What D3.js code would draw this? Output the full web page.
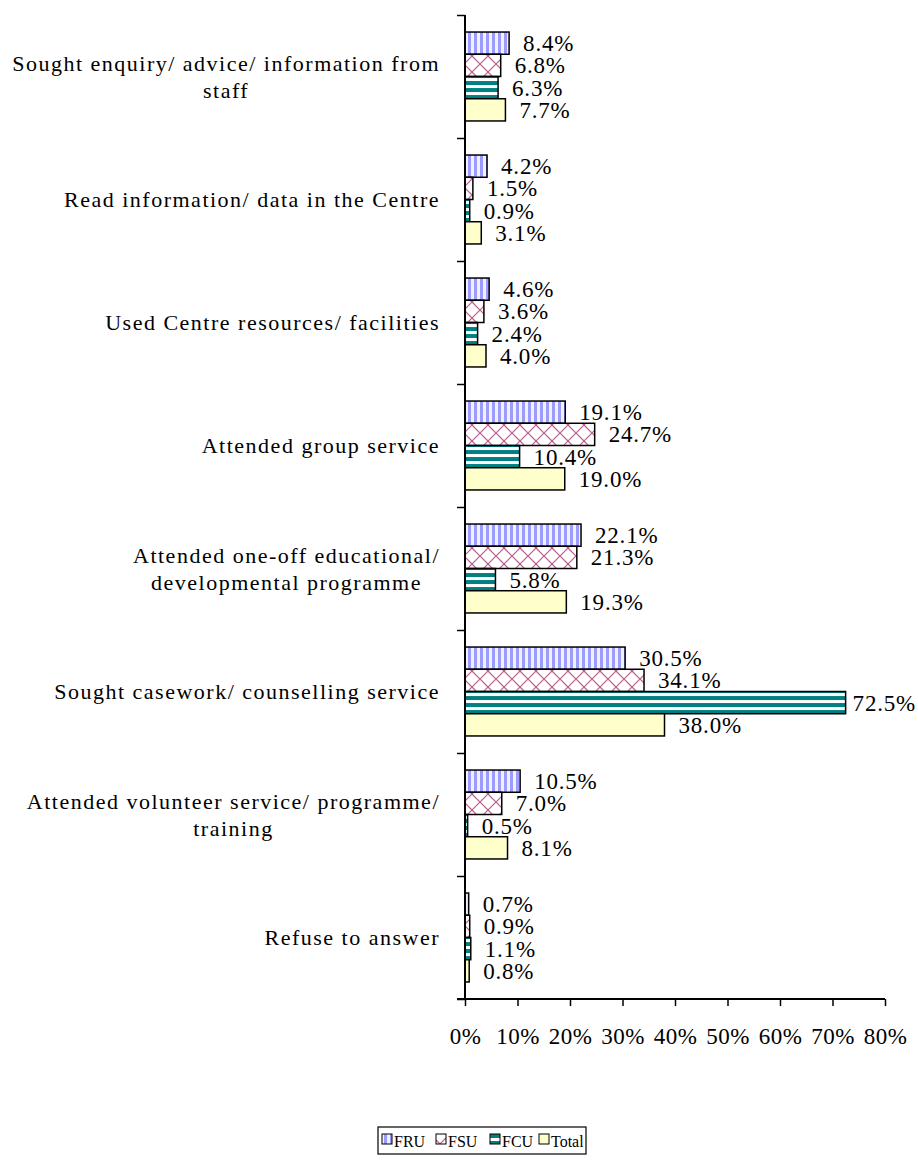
<!DOCTYPE html>
<html>
<head>
<meta charset="utf-8">
<script src="https://cdn.jsdelivr.net/npm/d3@7"></script>
<style>
html,body{margin:0;padding:0;background:#fff;}
svg{display:block;}
text{font-family:"Liberation Serif","Times New Roman",serif;fill:#000;}
</style>
</head>
<body>
<svg id="chart" width="918" height="1160"></svg>
<script>
const categories = [
  ["Sought enquiry/ advice/ information from", "staff"],
  ["Read information/ data in the Centre"],
  ["Used Centre resources/ facilities"],
  ["Attended group service"],
  ["Attended one-off educational/", "developmental programme"],
  ["Sought casework/ counselling service"],
  ["Attended volunteer service/ programme/", "training"],
  ["Refuse to answer"]
];
const seriesNames = ["FRU", "FSU", "FCU", "Total"];
const FRU   = [8.4, 4.2, 4.6, 19.1, 22.1, 30.5, 10.5, 0.7];
const FSU   = [6.8, 1.5, 3.6, 24.7, 21.3, 34.1, 7.0, 0.9];
const FCU   = [6.3, 0.9, 2.4, 10.4, 5.8, 72.5, 0.5, 1.1];
const Total = [7.7, 3.1, 4.0, 19.0, 19.3, 38.0, 8.1, 0.8];
const xTicks = [0, 10, 20, 30, 40, 50, 60, 70, 80];

const seriesValues = [FRU, FSU, FCU, Total];
const svg = d3.select("#chart");

// patterns
const defs = svg.append("defs");
const pFRU = defs.append("pattern").attr("id","p0").attr("patternUnits","userSpaceOnUse").attr("width",6).attr("height",6);
pFRU.append("rect").attr("width",6).attr("height",6).attr("fill","#f0f0ff");
pFRU.append("rect").attr("x",0).attr("width",3).attr("height",6).attr("fill","#9c9cff");
const pFSU = defs.append("pattern").attr("id","p1").attr("patternUnits","userSpaceOnUse").attr("width",16).attr("height",16);
pFSU.append("rect").attr("width",16).attr("height",16).attr("fill","#ffffff");
pFSU.append("path").attr("d","M0,16 L16,0 M-2,2 L2,-2 M14,18 L18,14 M0,0 L8,8 M8,8 L16,16").attr("stroke","#b95b8c").attr("stroke-width",1.2).attr("fill","none");
const pFCU = defs.append("pattern").attr("id","p2").attr("patternUnits","userSpaceOnUse").attr("width",8).attr("height",7);
pFCU.append("rect").attr("width",8).attr("height",7).attr("fill","#ffffff");
pFCU.append("rect").attr("y",0).attr("width",8).attr("height",4).attr("fill","#008080");
const fills = ["url(#p0)","url(#p1)","url(#p2)","#ffffcc"];

const W = 918;
const x = d3.scaleLinear().domain([0, 80]).range([465, 885]);
const idx = d3.range(categories.length);
const y = d3.scaleBand().domain(idx).range([15, 999]).paddingInner(0.277).paddingOuter(0.1385);
const yi = d3.scaleBand().domain(d3.range(4)).range([0, y.bandwidth()]);
const yEdge = d3.scaleLinear().domain([0, categories.length]).range([15, 999]);

// bars
const groups = svg.append("g").selectAll("g").data(idx).join("g")
  .attr("transform", i => `translate(0,${y(i)})`);
groups.selectAll("rect").data(i => seriesValues.map((s, k) => ({k, v: s[i]}))).join("rect")
  .attr("x", x(0))
  .attr("y", d => yi(d.k))
  .attr("width", d => x(d.v) - x(0))
  .attr("height", yi.bandwidth())
  .attr("fill", d => fills[d.k])
  .attr("stroke", "#000").attr("stroke-width", 1.5);
groups.selectAll("text.val").data(i => seriesValues.map((s, k) => ({k, v: s[i]}))).join("text")
  .attr("class","val")
  .attr("y", d => yi(d.k) + yi.bandwidth()/2)
  .attr("dy", "0.35em")
  .style("font-size","23px")
  .style("letter-spacing","0.8px")
  .text(d => d.v.toFixed(1) + "%")
  .each(function(d) {
    const w = this.getComputedTextLength();
    d3.select(this).attr("x", Math.min(x(d.v) + 14, W - 2 - w));
  });

// axes
const xAxis = svg.append("g").attr("transform","translate(0,999)")
  .call(d3.axisBottom(x).tickValues(xTicks).tickSize(7).tickPadding(22).tickFormat(d => d + "%"));
xAxis.select(".domain").attr("stroke","#000").attr("stroke-width",2).attr("d", `M${x(0)-8},0H${x(80)}`);
xAxis.selectAll(".tick line").attr("stroke","#000").attr("stroke-width",1.5);
xAxis.selectAll("text").style("font-size","23px").style("font-family","Liberation Serif").style("letter-spacing","0.4px");

const yAxis = svg.append("g").attr("transform",`translate(${x(0)},0)`)
  .call(d3.axisLeft(yEdge).tickValues(d3.range(categories.length + 1)).tickSize(8).tickFormat(""));
yAxis.select(".domain").attr("stroke","#000").attr("stroke-width",2).attr("d", `M0,${yEdge(0)}V${yEdge(categories.length)}`);
yAxis.selectAll(".tick line").attr("stroke","#000").attr("stroke-width",1.5);

// category labels
const labRight = 440;
const lineH = 27;
idx.forEach(i => {
  const lines = categories[i];
  const g = svg.append("g");
  const cy = y(i) + y.bandwidth()/2;
  const ts = lines.map((l, j) => g.append("text")
    .attr("y", cy + (j - (lines.length - 1)/2) * lineH)
    .attr("dy","0.35em")
    .attr("text-anchor","middle")
    .style("font-size","22px")
    .style("letter-spacing","1.5px")
    .text(l));
  const widths = ts.map(t => t.node().getComputedTextLength());
  const maxW = d3.max(widths);
  ts.forEach(t => t.attr("x", labRight - maxW/2));
});

// legend
const lg = svg.append("g");
lg.append("rect").attr("x",378).attr("y",1127).attr("width",208).attr("height",27)
  .attr("fill","#fff").attr("stroke","#000").attr("stroke-width",1.2);
const legX = [382, 436, 490, 539];
seriesNames.forEach((n, k) => {
  lg.append("rect").attr("x",legX[k]).attr("y",1134).attr("width",10).attr("height",10)
    .attr("fill",fills[k]).attr("stroke","#000").attr("stroke-width",1);
  lg.append("text").attr("x",legX[k]+12).attr("y",1141).attr("dy","0.35em")
    .style("font-size","16px").text(n);
});
</script>
</body>
</html>
